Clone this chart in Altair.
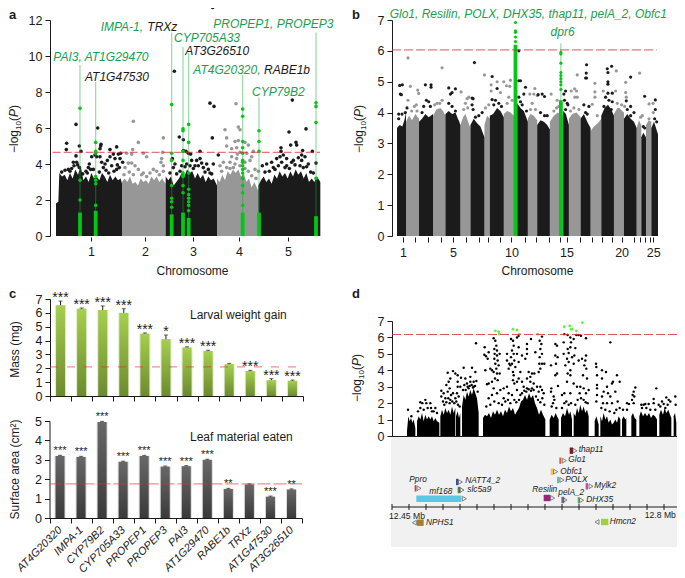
import altair as alt
import pandas as pd

FONT = "Liberation Sans"
BLACK = "#1b1b1b"
GREY = "#979797"
GREEN = "#00c814"
GTEXT = "#16a052"
RED = "#d8343c"
M = 8  # page margin

# ---------------- panel a ----------------
a_env = [
    ("1", "k", [(168,1.8),(175,1.9),(178,3.5),(186,3.3),(194,3.4),(202,3.1),(210,3.5),(218,3.2),(226,3.7),(234,3.4),(242,3.9),(250,3.1),(258,3.3),(266,3.0),(274,3.5),(282,3.2),(290,3.3),(298,3.1),(306,3.5),(314,3.3),(322,3.0),(330,3.4),(338,3.1),(346,3.3),(354,3.1),(362,3.2),(366,2.9)]),
    ("2", "g", [(366,3.0),(374,3.2),(382,3.0),(390,3.3),(398,2.9),(406,3.0),(414,2.8),(422,3.2),(430,3.0),(438,3.1),(446,2.9),(454,3.3),(462,3.1),(470,3.3),(478,3.0),(486,3.2),(497,2.9)]),
    ("3", "k", [(497,3.3),(505,3.1),(513,3.3),(521,2.8),(529,3.0),(537,3.2),(545,3.5),(553,3.3),(561,3.7),(569,3.5),(577,3.6),(585,3.2),(593,3.5),(601,3.2),(609,3.4),(617,3.0),(625,3.3),(633,3.1),(641,3.2),(651,2.8)]),
    ("4", "g", [(651,3.2),(659,3.0),(667,3.4),(675,3.1),(683,3.6),(691,3.4),(699,3.7),(707,3.5),(715,3.7),(723,3.3),(731,3.5),(739,3.0),(747,3.2),(755,2.7),(763,3.0),(775,2.5)]),
    ("5", "k", [(775,2.8),(783,3.1),(791,3.3),(799,3.0),(807,3.2),(815,2.9),(823,3.4),(831,3.2),(839,3.6),(847,3.3),(855,3.5),(863,3.2),(871,3.6),(879,3.3),(887,3.7),(895,3.4),(903,3.6),(911,3.2),(919,3.5),(927,3.0),(935,3.2),(943,3.0),(951,3.3),(961,3.0)]),
]
a_black = [(200,5.15),(199,4.8),(228,6.2),(238,5.0),(243,4.7),(228,4.45),(205,3.7),(220,4.1),(230,4.1),(210,3.6),(222,3.9),(238,3.8),(258,3.6),(268,4.0),(275,4.4),(293,6.0),(285,4.5),(290,4.4),(303,5.1),(302,5.0),(300,4.85),(330,4.8),(350,4.95),(330,4.4),(322,4.2),(315,4.0),(300,4.4),(340,4.55),(355,4.55),(362,4.6),(360,4.3),(368,4.1),(345,4.3),(265,3.8),(280,3.7),(310,3.8),(335,3.9),(350,3.7),
    (215,3.75),(233,3.95),(248,3.45),(262,3.5),(272,3.7),(298,3.55),(305,4.1),(318,3.65),(326,3.5),(342,3.6),(352,3.95),(358,3.8),(185,3.55),(195,3.65),
    (538,5.5),(550,5.35),(550,4.75),(558,4.7),(565,4.6),(572,4.55),(517,4.3),(630,7.38),(642,7.2),(637,5.45),(655,4.5),(640,4.0),(600,4.7),(590,4.2),(600,4.3),(575,4.2),(560,4.0),(545,3.9),(620,4.0),(610,3.8),(525,4.0),(523,9.15),(638,12.7),(520,3.8),(630,3.5),(585,3.9),
    (555,3.85),(570,3.9),(580,3.75),(595,3.9),(605,4.05),(615,3.55),(625,3.7),(635,3.45),(540,3.6),(530,3.45),(510,3.5),
    (877,7.55),(918,5.95),(867,5.78),(888,5.2),(872,5.05),(890,5.05),(843,4.9),(843,4.7),(908,4.75),(937,4.7),(905,4.5),(948,4.05),(787,3.9),(800,4.0),(815,4.1),(830,4.3),(840,4.4),(850,4.5),(860,4.3),(880,4.2),(895,4.35),(915,4.4),(925,4.0),(905,4.2),(875,4.1),(820,3.8),(860,3.9),
    (795,3.55),(808,3.6),(825,3.7),(835,3.9),(845,4.1),(855,3.8),(868,3.75),(885,3.95),(900,3.9),(910,3.8),(920,3.85),(932,3.55),(940,3.5)]
a_grey = [(400,6.37),(398,4.8),(415,5.2),(430,4.6),(440,4.4),(380,4.6),(385,4.05),(395,4.05),(405,3.9),(375,3.8),(395,4.55),(490,5.45),(488,4.65),(485,4.3),(483,4.1),(490,3.9),(490,3.6),(470,3.6),(450,3.5),(430,3.5),(415,3.7),(460,3.7),
    (372,3.4),(388,3.55),(400,3.4),(425,3.4),(440,3.3),(478,3.4),
    (708,7.35),(675,5.9),(715,6.05),(720,5.9),(680,5.45),(705,5.25),(715,5.3),(735,5.2),(680,5.0),(695,4.85),(710,4.9),(720,4.65),(740,4.6),(760,4.7),(745,5.05),(755,4.4),(670,4.1),(690,4.1),(710,4.3),(750,4.2),(765,3.7),(775,3.6),(660,3.9),(695,4.4),(735,4.1),(720,3.9),(700,3.8),
    (665,3.6),(680,3.8),(690,3.75),(705,4.0),(712,4.55),(735,3.75),(745,3.6),(755,3.35),(768,3.2)]
a_stems = [(240,9.5),(287,8.55),(515,11.3),(549,10.5),(566,10.2),(728,8.95),(777,7.7),(948,11.3)]
a_runs = [(240,1.3),(287,1.4),(515,1.2),(549,1.3),(566,1.0),(728,1.3),(777,1.3),(948,1.1)]
a_green = [(240,7.1),(240,3.1),(240,2.0),
    (287,5.2),(287,4.7),(287,4.6),(287,3.3),(287,3.1),(287,2.9),(287,1.7),
    (515,7.3),(515,4.6),(515,4.2),(515,2.8),(515,2.1),(515,1.9),(515,1.6),
    (549,5.95),(549,5.85),(549,4.7),(549,4.2),(549,3.5),(549,3.4),(549,3.3),(549,2.8),(549,2.4),
    (566,6.2),(566,5.2),(566,3.5),(566,2.6),(566,2.3),(566,2.1),(566,1.9),(566,1.7),(566,1.4),
    (728,7.05),(728,6.65),(728,5.25),(728,4.9),(728,4.6),(728,4.2),(728,4.1),(728,3.9),(728,3.7),(728,3.5),(728,3.2),(728,2.8),(728,2.4),(728,1.7),
    (777,5.85),(777,5.25),(777,4.7),
    (948,7.4),(948,7.2),(948,6.3),(948,3.2)]
a_ticks = [273,435,579,717,864]
a_labels = [(160,9.93,"PAI3, AT1G29470",GTEXT),(255,8.85,"AT1G47530",BLACK),(302,11.63,"IMPA-1,",GTEXT),(442,11.63,"TRXz",BLACK),
    (522,11.02,"CYP705A33",GTEXT),(556,10.27,"AT3G26510",BLACK),(580,9.22,"AT4G20320,",GTEXT),(792,9.22,"RABE1b",BLACK),
    (756,8.02,"CYP79B2",GTEXT),(640,11.8,"PROPEP1, PROPEP3",GTEXT)]

# ---------------- panel b ----------------
b_env = [
    ("2","g",[(197,3.7),(206,3.9),(215,3.75),(225,3.95),(236,3.8)]),
    ("4","g",[(278,3.9),(288,4.1),(300,4.15),(308,4.05),(315,3.9)]),
    ("6","g",[(360,3.6),(368,3.85),(375,3.95),(383,3.7),(390,3.5)]),
    ("8","g",[(432,3.6),(440,3.9),(448,3.8)]),
    ("10","g",[(490,3.95),(500,4.05),(510,4.0),(520,3.9),(530,4.0)]),
    ("12","g",[(562,3.8),(570,3.95),(580,3.9),(590,3.75)]),
    ("14","g",[(628,3.7),(640,3.9),(652,4.0),(668,3.9)]),
    ("16","g",[(685,3.8),(695,3.95),(708,4.0),(720,3.85)]),
    ("18","g",[(750,3.4),(760,3.55),(772,3.65),(782,3.8)]),
    ("20","g",[(820,3.95),(830,4.15),(840,4.1),(850,4.0)]),
    ("22","g",[(888,3.5),(895,3.75),(902,3.6)]),
    ("24","g",[(916,3.6),(924,3.75),(932,3.7)]),
    ("1","k",[(170,3.5),(178,3.6),(186,3.55),(192,3.75),(197,4.0)]),
    ("3","k",[(236,3.7),(245,3.8),(255,3.95),(265,3.85),(278,3.95)]),
    ("5","k",[(315,3.95),(325,4.05),(335,3.95),(345,4.0),(360,3.6)]),
    ("7","k",[(390,3.6),(400,3.8),(410,3.65),(420,3.55),(432,3.2)]),
    ("9","k",[(448,3.9),(458,3.95),(470,4.15),(480,4.05),(490,3.85)]),
    ("11","k",[(530,4.3),(540,4.15),(550,4.05),(562,3.7)]),
    ("13","k",[(590,3.6),(600,3.75),(610,3.7),(620,3.6),(628,3.45)]),
    ("15","k",[(668,4.05),(676,3.95),(685,3.6)]),
    ("17","k",[(720,3.8),(730,3.95),(740,3.7),(750,3.5)]),
    ("19","k",[(782,3.9),(792,4.15),(802,4.25),(812,4.1),(820,3.9)]),
    ("21","k",[(850,3.8),(860,3.95),(870,3.8),(880,3.7),(888,3.5)]),
    ("23","k",[(902,3.2),(908,3.35),(916,3.2)]),
    ("25","k",[(932,3.5),(940,3.7),(952,3.3)]),
]
b_black = [(178,4.88),(186,4.9),(180,4.6),(183,4.58),(200,4.15),(195,4.0),(175,3.95),(185,3.95),(175,3.8),
    (255,4.9),(272,4.9),(272,4.82),(250,4.2),(258,4.4),(265,4.35),(270,4.2),(245,4.0),(325,4.8),(345,4.77),(335,4.65),(330,4.6),(325,4.3),(335,4.2),(345,4.05),(352,3.7),
    (402,5.62),(395,4.47),(398,4.45),(395,4.25),(398,4.1),(425,4.0),(415,3.9),(405,3.85),
    (455,5.17),(470,4.78),(455,4.42),(465,4.4),(460,4.25),(475,4.3),(483,4.2),
    (535,6.0),(540,5.03),(535,5.03),(555,4.82),(550,4.6),(540,4.35),(535,4.5),(545,4.25),(558,4.05),
    (593,4.58),(605,4.6),(612,4.52),(600,4.0),(612,3.9),(620,3.9),
    (675,4.7),(670,4.6),(672,4.4),(680,4.3),(675,4.1),(682,4.25),
    (738,5.55),(737,5.28),(735,5.12),(738,5.12),(730,4.25),(745,4.2),(740,3.95),(735,4.0),
    (800,5.42),(813,5.5),(802,5.3),(802,5.0),(802,4.92),(802,4.63),(815,4.63),(795,4.5),(805,4.4),(790,4.2),(815,4.35),(800,4.1),(812,4.1),
    (870,5.15),(857,4.38),(870,4.2),(880,4.0),(860,4.1),(870,3.9),
    (912,4.53),(908,3.55),(912,3.5),(944,4.41),(944,4.1),(942,3.8),(948,3.7)]
b_grey = [(203,5.77),(210,4.85),(232,4.73),(235,4.62),(203,4.4),(222,4.2),(228,4.25),(214,4.05),(230,4.05),(305,5.45),(305,4.4),(290,4.3),(283,4.25),(298,4.3),
    (362,4.67),(380,4.45),(375,4.3),(370,4.1),(385,4.5),(382,4.15),(432,5.22),(452,4.9),(452,4.7),(470,5.0),(490,5.0),(510,5.05),(498,4.87),(508,4.85),(480,4.65),(445,4.25),(435,4.15),(500,4.3),(515,4.4),(505,4.5),
    (583,4.78),(568,4.6),(580,4.6),(590,4.55),(575,4.3),(570,4.1),(585,4.1),(632,4.6),(650,4.4),(640,4.05),(648,4.15),(655,4.2),
    (710,5.22),(692,4.7),(702,4.77),(708,4.7),(703,4.5),(710,4.5),(700,4.15),(715,4.1),(690,4.05),
    (763,4.95),(763,4.67),(763,4.5),(755,4.27),(770,3.9),(788,4.7),(827,5.35),(825,4.7),(835,4.1),(830,4.3),(843,4.25),
    (855,4.98),(855,4.65),(857,4.5),(852,4.2),(897,5.28),(905,3.9),(900,3.85),(925,4.28),(937,4.3),(938,4.0),(925,3.8)]
b_stems = [(661,6.25)]
b_runs = [(525,6.2),(661,4.4)]
b_green = [(525,6.92),(525,6.65),(525,6.6),(525,6.45),(525,6.3),(661,5.95),(661,5.9),(661,5.6),(661,5.3),(661,5.2),(661,5.1),(661,5.0),(661,4.9),(661,4.75)]
b_ticks = [188,223,262,302,338,378,415,443,480,513,553,587,625,657,678,718,755,785,815,843,880,897,913,927,938]
b_tick_shown = {188:"1",338:"5",513:"10",678:"15",843:"20",938:"25"}

# ---------------- panel c ----------------
genes = ["AT4G20320","IMPA-1","CYP79B2","CYP705A33","PROPEP1","PROPEP3","PAI3","AT1G29470","RABE1b","TRXz","AT1G47530","AT3G26510"]
mass = [6.55,6.3,6.2,6.0,4.5,4.1,3.5,3.25,2.3,1.8,1.15,1.1]
mass_err = [0.3,0.05,0.3,0.3,0.05,0.3,0.05,0.05,0.05,0.05,0.1,0.05]
mass_sig = ["***","***","***","***","***","*","***","***","","***","***","***"]
leaf = [3.2,3.15,4.95,2.9,3.2,2.65,2.67,3.0,1.5,1.73,1.1,1.47]
leaf_err = [0.03,0.03,0.03,0.03,0.03,0.03,0.03,0.03,0.03,0.03,0.03,0.03]
leaf_sig = ["***","***","***","***","***","***","***","***","**","","***","**"]

# ---------------- panel d ----------------
d_env = [
    [(200,0.3),(204,1.2),(208,0.9),(212,1.1),(216,0.8),(220,1.0),(225,0.5)],
    [(230,0.9),(235,1.2),(240,1.0),(245,1.4),(250,0.9),(255,1.3),(260,1.0),(265,1.2),(270,1.0),(275,1.2),(280,0.9),(285,1.1),(290,0.9),(297,0.8)],
    [(300,1.2),(305,1.6),(310,1.3),(315,1.7),(320,1.4),(325,1.6),(330,1.3),(335,1.8),(340,1.4),(345,1.7)],
    [(347,1.2),(352,1.5),(356,1.1),(360,1.4)],
    [(365,1.8),(370,2.5),(375,2.2),(380,2.7),(385,2.4),(390,2.8),(395,2.5),(400,2.9),(405,2.6),(410,2.3),(415,1.4)],
    [(428,1.1),(434,1.3),(440,1.2),(446,1.4),(452,1.1),(458,1.5),(464,1.3),(470,1.6),(476,1.3),(482,1.5),(488,1.2),(494,1.6),(500,1.4),(506,1.8),(512,1.5),(518,1.7),(524,1.3),(530,1.5),(536,1.7),(542,2.1),(548,2.2),(554,2.5),(560,2.2),(566,2.6),(572,2.3),(578,2.5),(584,2.0),(590,1.7),(596,1.3),(602,1.6),(608,1.3),(615,1.0)],
    [(628,1.0),(634,1.3),(640,1.1),(646,1.4),(650,1.2),(655,1.0)],
    [(662,1.1),(668,1.4),(674,1.2),(680,1.7),(686,1.3),(690,1.5),(695,1.0)],
    [(700,1.4),(705,1.2),(710,1.7),(715,1.4),(720,1.9),(725,1.5),(730,1.8),(735,1.4),(740,1.6),(745,1.2)],
    [(763,0.9),(768,1.2),(775,0.7)],
    [(780,1.2),(785,0.9),(790,1.4),(795,1.0),(800,1.2),(805,0.8),(810,1.0),(815,0.7),(820,0.8),(825,1.0),(830,0.8),(835,1.2),(840,1.0)],
    [(845,1.0),(850,1.2),(855,1.0),(858,1.1)],
    [(873,1.2),(878,1.4),(883,1.1),(888,1.0)],
    [(897,1.2),(902,1.5),(908,1.2),(914,1.4),(920,1.2),(926,1.4),(932,1.1),(938,1.3),(944,1.2),(950,1.0)],
    [(957,1.3),(962,1.6),(968,1.3),(973,1.7),(978,1.4),(984,1.6),(989,1.3),(993,1.1)],
    [(1000,1.2),(1004,1.4),(1008,0.8)],
]
d_dots = [(203,1.6),(213,1.2),(240,2.05),(246,2.0),(255,2.2),(258,2.0),(240,1.7),(270,2.0),(272,1.7),(285,1.7),(290,1.4),(262,1.7),(275,1.5),(233,1.5),(250,1.6),(280,1.5),
    (303,2.75),(322,3.85),(338,3.95),(345,3.8),(352,3.7),(370,4.15),(395,4.15),(405,3.9),(390,3.6),(375,3.5),(362,3.55),(330,3.5),(325,3.3),(318,3.1),(310,2.6),(303,2.4),(352,3.3),(352,3.0),(360,3.0),(372,3.1),(380,3.2),(390,3.3),(400,3.3),(408,3.35),(328,2.9),(338,2.6),(350,2.6),(315,2.3),(322,2.7),(400,3.0),(385,2.9),(345,2.3),(330,2.2),(355,2.4),(407,5.65),
    (308,2.1),(312,1.9),(318,2.05),(324,2.3),(328,2.0),(332,2.5),(336,2.1),(342,2.0),(348,2.1),(353,1.9),(358,1.8),(368,2.8),(376,2.8),(382,3.0),(388,3.05),(394,3.1),(398,2.95),(404,3.05),(412,2.7),
    (433,5.4),(432,4.95),(437,4.85),(445,5.1),(442,4.7),(435,4.0),(440,3.15),(445,3.2),(450,4.1),(455,4.0),(460,5.95),(465,5.8),(468,5.5),(462,5.3),(470,5.2),(463,5.0),(470,4.9),(462,4.7),(472,4.6),(465,4.4),(475,4.3),(468,4.1),(460,3.9),(470,3.8),(478,3.8),(464,3.5),(472,3.4),(455,3.3),(460,2.9),(480,2.8),(470,2.6),(455,2.5),(445,2.3),(490,2.3),(478,5.0),(500,5.0),(500,4.6),(507,4.4),(512,5.9),(518,5.8),(520,5.5),(515,5.2),(520,5.0),(512,4.8),(522,4.6),(515,4.4),(510,4.3),(505,4.1),(525,4.2),(518,3.9),(520,3.7),(518,3.4),(522,3.2),(535,6.1),(530,6.0),(535,5.4),(530,5.0),(545,4.9),(535,4.5),(540,3.9),(535,3.5),(530,3.3),(545,3.3),(560,5.6),(560,5.3),(560,5.0),(555,4.7),(572,5.9),(585,5.1),(605,6.05),(598,5.8),(603,5.6),(600,5.3),(605,5.0),(598,4.8),(597,4.4),(605,4.4),(612,4.4),(600,4.1),(595,3.9),(565,3.9),(575,3.8),(582,3.8),(570,3.6),(560,3.5),(570,3.3),(580,3.2),(550,3.0),(560,2.9),(575,2.9),(590,3.0),(600,3.0),(605,2.8),(595,2.7),(610,2.6),(500,3.0),(490,2.9),(505,2.6),(515,2.5),(530,2.8),(540,2.5),
    (438,1.8),(450,1.9),(462,2.1),(475,2.0),(485,1.9),(495,2.1),(503,2.2),(510,2.0),(522,2.2),(528,2.05),(536,2.2),(545,2.6),(552,2.75),(558,2.7),(565,2.85),(572,2.75),(580,2.8),(587,2.4),(593,2.2),(600,2.05),(606,2.3),(612,1.9),
    (633,2.9),(632,2.7),(632,4.3),(645,5.6),(650,5.5),(645,4.9),(652,4.8),(647,4.4),(650,3.8),(645,3.7),(653,3.05),(640,2.4),(642,2.2),(672,6.2),(682,6.15),(690,6.0),(708,6.15),(715,6.15),(722,6.1),(737,5.95),(700,5.9),(692,5.7),(670,5.7),(690,5.4),(682,5.3),(670,5.0),(705,5.35),(685,5.05),(702,4.9),(695,4.8),(680,4.7),(685,4.5),(700,4.4),(675,4.3),(715,4.6),(725,4.7),(737,4.9),(735,4.6),(732,4.3),(738,4.1),(690,4.0),(682,3.8),(690,3.7),(680,3.3),(672,2.6),(690,2.6),(700,3.2),(710,3.0),(720,3.0),(730,2.9),(740,3.5),(728,3.7),(718,2.6),(737,2.6),(745,2.8),(665,2.5),
    (634,1.8),(638,2.0),(648,1.7),(665,1.7),(672,2.0),(678,2.1),(685,1.9),(692,2.0),(705,1.9),(712,2.2),(722,2.3),(730,2.2),(736,2.05),(742,2.0),
    (767,4.4),(768,4.2),(770,3.7),(770,3.1),(770,2.9),(770,2.5),(768,2.1),(810,5.7),(785,4.0),(797,3.9),(785,3.5),(800,3.0),(790,2.7),(803,2.6),(810,2.4),(815,3.2),(830,3.7),(818,3.3),(838,3.3),(825,2.7),(815,2.0),(800,2.0),(785,2.4),(832,2.1),(788,2.0),(860,2.0),(866,1.95),(860,1.6),(885,2.95),(880,2.7),(877,2.5),(882,2.4),(875,2.2),(880,2.0),
    (783,1.7),(795,1.6),(808,1.5),(822,1.4),(828,1.6),(838,1.7),(848,1.6),
    (903,1.9),(910,1.9),(915,1.95),(925,1.95),(940,2.25),(948,2.9),(940,2.0),(955,1.9),(965,2.1),(978,2.35),(985,2.2),(990,2.1),(970,1.95),(975,1.7),(1005,2.4),(1006,1.9),
    (905,1.7),(918,1.7),(930,1.6),(945,1.6),(960,1.8),(982,1.9)]
d_green = [(465,6.4),(475,6.35),(477,6.2),(518,6.5),(530,6.45),(537,6.2),(592,6.2),(672,6.65),(688,6.7),(692,6.5),(708,6.4),(726,6.9),(695,6.5)]
d_ticks = [155,206,257,308,359,410,461,512,563,614,665,716,767,818,869,920,971,1022]
# name, start, end, row, colour, triangle x, triangle shape, label x, label row
tracks = [
    ("thap11",688,698,13.7,"#7a1f1f",704,"triangle-right",715,13.3),
    ("Glo1",657,663,23.7,"#e06030",672,"triangle-right",684,23.3),
    ("Obfc1",631,640,34.7,"#f5c542",646,"triangle-right",660,35),
    ("POLX",650,657,43,"#60c0b0",665,"triangle-right",675,43),
    ("Mylk2",736,743,49.3,"#c04fa0",752,"triangle-right",762,49.3),
    ("Resilin",610,630,61,"#a0207f",637,"triangle-right",576,53),
    ("pelA_2",663,672,63,"#7878a8",674,"triangle-right",654,55.5),
    ("DHX35",712,718,63.3,"#60b060",724,"triangle-right",738,63),
    ("NATT4_2",347,354,45,"#4050a0",360,"triangle-right",375,44),
    ("slc5a9",352,360,53,"#5a8040",365,"triangle-right",381,53),
    ("Ppro",223,228,51.3,"#e83040",236,"triangle-right",207,43.3),
    ("mf168",228,363,61.7,"#5cc8e8",372,"triangle-right",267,54.7),
    ("NPHS1",230,250,85.7,"#a08030",222,"triangle-left",257,85.7),
    ("Hmcn2",782,804,85,"#a0d040",770,"triangle-left",808,85),
]
ruler_row = 70
ruler_labels = [(200,78.5,"12.45 Mb"),(960,78,"12.8 Mb")]
cut_a, cut_b, cut_c1, cut_c2, cut_d = 4.65, 6.03, 2.1, 1.76, 6.18


def rng(lo, hi):
    return [lo - M, hi - M]


def xy(df, px, py, xaxis=None, yaxis=None, xf="x", yf="y"):
    return dict(
        x=alt.X(f"{xf}:Q", scale=alt.Scale(domain=px[0], range=px[1]), axis=xaxis, title=None),
        y=alt.Y(f"{yf}:Q", scale=alt.Scale(domain=py[0], range=py[1]), axis=yaxis, title=None, stack=None),
    )


def pts(pairs):
    return pd.DataFrame(pairs, columns=["x", "y"])


def y_axis(vals, x_real, title=None, **kw):
    opts = dict(orient="left", values=vals, offset=-(x_real - M), domainColor=BLACK, tickColor=BLACK, tickSize=5,
                labelColor=BLACK, labelFontSize=12.5, labelPadding=3, grid=False, format="d")
    opts.update(kw)
    if title:
        opts.update(title=title, titleFontWeight="normal", titleFontSize=12, titleColor=BLACK)
    return alt.Axis(**opts)


def txt(x, y, s, size=12, angle=0, align="left", baseline="alphabetic", style="normal", weight="normal", color=BLACK):
    kw = dict(text=s, fontSize=size, align=align, baseline=baseline, fontStyle=style, fontWeight=weight, color=color, font=FONT)
    if angle:
        kw["angle"] = angle
    return alt.Chart(alt.Data(values=[{}])).mark_text(**kw).encode(x=alt.value(x - M), y=alt.value(y - M))


def log_title(xb, ybottom):
    out = [txt(xb, ybottom, "\u2212log", 12, 270)]
    out.append(txt(xb + 3, ybottom - 23, "10", 8, 270))
    out.append(txt(xb, ybottom - 32, "(", 12, 270))
    out.append(txt(xb, ybottom - 36, "P", 12, 270, style="italic"))
    out.append(txt(xb, ybottom - 44, ")", 12, 270))
    return out


def manhattan(env, black, grey, stems, runs, green, cut, cutx, px, py, xaxis, yaxis, psize, runw, dash):
    rows = [{"x": x, "y": y, "chr": c, "s": s} for c, s, p in env for x, y in p]
    df = pd.DataFrame(rows)
    layers = [alt.Chart(df).mark_area(interpolate="linear").encode(
        detail="chr:N",
        color=alt.Color("s:N", scale=alt.Scale(domain=["k", "g"], range=[BLACK, GREY]), legend=None),
        **xy(df, px, py, xaxis, yaxis))]
    layers.append(alt.Chart(pts(grey)).mark_circle(size=psize, color=GREY, opacity=1).encode(**xy(None, px, py)))
    layers.append(alt.Chart(pts(black)).mark_circle(size=psize, color=BLACK, opacity=1).encode(**xy(None, px, py)))
    if stems:
        sd = pd.DataFrame(stems, columns=["x", "y"]).assign(y0=0)
        layers.append(alt.Chart(sd).mark_rule(color="#19a83a", opacity=0.45, strokeWidth=1.2).encode(
            y2="y0:Q", **xy(None, px, py)))
    rd = pd.DataFrame(runs, columns=["x", "y"]).assign(y0=0)
    layers.append(alt.Chart(rd).mark_rule(color=GREEN, strokeWidth=runw).encode(y2="y0:Q", **xy(None, px, py)))
    layers.append(alt.Chart(pts(green)).mark_circle(size=psize, color=GREEN, opacity=1).encode(**xy(None, px, py)))
    th = pd.DataFrame([{"x": cutx[0], "x2": cutx[1], "y": cut}])
    layers.append(alt.Chart(th).mark_rule(color=RED, strokeWidth=1, strokeDash=dash, opacity=0.85).encode(
        x2="x2:Q", **xy(None, px, py)))
    return layers


layers = []

# panel a
pxa = ([150, 966], rng(50, 322))
pya = ([0, 12], rng(236, 20))
lab_a = "indexof(" + str(a_ticks) + ",datum.value)+1"
xa = alt.Axis(orient="bottom", values=a_ticks, offset=-(578 - 237), domain=False, tickColor=BLACK, tickSize=4,
              labelColor=BLACK, labelFontSize=12.5, labelPadding=4, labelExpr=lab_a, grid=False,
              title="Chromosome", titleFontWeight="normal", titleFontSize=12, titleColor=BLACK,
              titleX=192 - M, titleY=33, titleBaseline="middle")
ya = y_axis([0, 2, 4, 6, 8, 10, 12], 50)
layers += manhattan(a_env, a_black, a_grey, a_stems, a_runs, a_green, cut_a, (158, 960), pxa, pya, xa, ya, 13, 3.8, [8, 3])
d_a = pd.DataFrame(a_labels, columns=["x", "y", "t", "c"])
layers.append(alt.Chart(d_a).mark_text(align="left", baseline="middle", fontSize=12, fontStyle="italic", font=FONT).encode(
    text="t:N", color=alt.Color("c:N", scale=None), **xy(None, pxa, pya)))
layers += log_title(18, 153)
layers.append(txt(9, 19, "a", 13, weight="bold"))

# panel b
pxb = ([155, 955], rng(392, 659))
pyb = ([0, 7], rng(236, 20))
shown = "{" + ",".join(f"'{k}':'{v}'" for k, v in b_tick_shown.items()) + "}[''+datum.value]||''"
xb = alt.Axis(orient="bottom", values=b_ticks, offset=-(578 - 237), domain=False, tickColor=BLACK, tickSize=5,
              labelColor=BLACK, labelFontSize=12.5, labelPadding=4, labelExpr=shown, grid=False,
              title="Chromosome", titleFontWeight="normal", titleFontSize=12, titleColor=BLACK,
              titleX=537 - M, titleY=33, titleBaseline="middle")
yb = y_axis([0, 1, 2, 3, 4, 5, 6, 7], 392)
layers += manhattan(b_env, b_black, b_grey, b_stems, b_runs, b_green, cut_b, (155, 948), pxb, pyb, xb, yb, 10, 3.8, [9, 3])
d_b = pd.DataFrame([(148, 7.21, "Glo1, Resilin, POLX, DHX35, thap11, pelA_2, Obfc1"), (630, 6.62, "dpr6")], columns=["x", "y", "t"])
layers.append(alt.Chart(d_b).mark_text(align="left", baseline="middle", fontSize=12, fontStyle="italic", font=FONT, color=GTEXT).encode(
    text="t:N", **xy(None, pxb, pyb)))
layers += log_title(363, 153)
layers.append(txt(352, 19, "b", 13, weight="bold"))


# panel c
def bars(vals, errs, sig, gene_range, py, ticks, stops, halo, title, title_y, xaxis, cut, cut_dash, star_size, star_dy, y_real_x):
    df = pd.DataFrame({"g": genes, "v": vals, "top": [a + b for a, b in zip(vals, errs)], "s": sig}).assign(y0=0)
    X = alt.X("g:N", sort=None, scale=alt.Scale(type="band", domain=genes, range=gene_range, paddingInner=0, paddingOuter=0), axis=xaxis, title=None)
    X0 = alt.X("g:N", sort=None, scale=alt.Scale(type="band", domain=genes, range=gene_range, paddingInner=0, paddingOuter=0), axis=None, title=None)
    Y = alt.Y("v:Q", scale=alt.Scale(domain=py[0], range=py[1]), axis=y_axis(ticks, y_real_x, title=title, titleAngle=270, titleX=-(y_real_x - 18), titleY=title_y - M, titleBaseline="alphabetic"), title=title, stack=None)
    Y0 = lambda f: alt.Y(f, scale=alt.Scale(domain=py[0], range=py[1]), axis=None, title=None, stack=None)
    grad = alt.LinearGradient(gradient="linear", x1=0, x2=0, y1=0, y2=1,
                              stops=[alt.GradientStop(color=stops[0], offset=0), alt.GradientStop(color=stops[1], offset=1)])
    ls = [alt.Chart(df).mark_bar(size=11, color=halo).encode(x=X, y=Y)]
    ls.append(alt.Chart(df).mark_bar(size=9, color=grad).encode(x=X0, y=Y0("v:Q")))
    ls.append(alt.Chart(df).mark_rule(color="#222", strokeWidth=1).encode(x=X0, y=Y0("v:Q"), y2="top:Q"))
    ls.append(alt.Chart(df).mark_tick(color="#222", size=4, thickness=1, orient="horizontal").encode(x=X0, y=Y0("top:Q")))
    ls.append(alt.Chart(df).mark_text(fontSize=star_size, baseline="alphabetic", dy=star_dy, color=BLACK, font=FONT).encode(x=X0, y=Y0("top:Q"), text="s:N"))
    th = pd.DataFrame([{"x": gene_range[0], "x2": gene_range[1], "y": cut}])
    ls.append(alt.Chart(th).mark_rule(color=RED, strokeWidth=1.1, strokeDash=cut_dash, opacity=0.55).encode(
        x=alt.X("x:Q", scale=None, axis=None), x2="x2:Q", y=Y0("y:Q")))
    return ls


xc1 = alt.Axis(orient="bottom", offset=-(578 - 396), labels=False, domainColor=BLACK, tickColor=BLACK, tickSize=5, tickBand="extent", grid=False)
layers += bars(mass, mass_err, mass_sig, rng(50, 303), ([0, 7], rng(396, 299)), [0, 1, 2, 3, 4, 5, 6, 7],
               ("#a6cf4e", "#6c8a2e"), "#dfeccb", "Mass (mg)", 349, xc1, cut_c1, [8, 9], 14, 1, 50)
xc2 = alt.Axis(orient="bottom", offset=-(578 - 518), domainColor=BLACK, tickColor=BLACK, tickSize=5, tickBand="extent", grid=False,
               labelAngle=-45, labelAlign="right", labelBaseline="middle", labelFontSize=11, labelColor=BLACK, labelFontStyle="italic", labelPadding=5, labelOverlap=False)
layers += bars(leaf, leaf_err, leaf_sig, rng(49.5, 302), ([0, 5], rng(518, 421)), [0, 1, 2, 3, 4, 5],
               ("#686868", "#3a3a3a"), "#dcdcdc", "Surface area (cm\u00b2)", 469, xc2, cut_c2, [13, 3], 11, -1, 49.5)
layers.append(txt(190, 319, "Larval weight gain", 12))
layers.append(txt(190, 441, "Leaf material eaten", 12))
layers.append(txt(9, 298, "c", 13, weight="bold"))

# panel d
pxd = ([155, 1022], rng(392, 681))
pyd = ([0, 7], rng(436, 321))
ptr = ([0, 110], rng(437, 547))
box = pd.DataFrame([{"x": 152, "x2": 1020, "y": 0, "y2": 110}])
layers.append(alt.Chart(box).mark_rect(color="#f1f1f1").encode(x2="x2:Q", y2="y2:Q", **xy(None, pxd, ptr)))
env_rows = [{"x": x, "y": y, "c": i} for i, p in enumerate(d_env) for x, y in p]
xd = alt.Axis(orient="bottom", values=d_ticks, offset=-(578 - 436), labels=False, domainColor=BLACK, tickColor=BLACK, tickSize=4, grid=False)
yd = y_axis([0, 1, 2, 3, 4, 5, 6, 7], 392)
layers.append(alt.Chart(pd.DataFrame(env_rows)).mark_area(color="#000000").encode(detail="c:N", **xy(None, pxd, pyd, xd, yd)))
layers.append(alt.Chart(pts(d_dots)).mark_circle(size=6, color="#000000", opacity=1).encode(**xy(None, pxd, pyd)))
layers.append(alt.Chart(pts(d_green)).mark_circle(size=8, color="#66ee44", opacity=1).encode(**xy(None, pxd, pyd)))
thd = pd.DataFrame([{"x": 155, "x2": 1022, "y": cut_d}])
layers.append(alt.Chart(thd).mark_rule(color=RED, strokeWidth=1, strokeDash=[9, 3], opacity=0.85).encode(x2="x2:Q", **xy(None, pxd, pyd)))
layers += log_title(361, 402)
layers.append(txt(352, 298, "d", 13, weight="bold"))

# gene track
tr = pd.DataFrame(tracks, columns=["name", "x", "x2", "y", "col", "tx", "shape", "lx", "ly"])
tr["y1"] = tr["y"] - 3.2
tr["y2"] = tr["y"] + 3.2
layers.append(alt.Chart(pd.DataFrame([{"x": 155, "x2": 1020, "y": ruler_row}])).mark_rule(color=BLACK, strokeWidth=1).encode(x2="x2:Q", **xy(None, pxd, ptr)))
rt = pd.DataFrame({"x": d_ticks}).assign(y=ruler_row - 3, y2=ruler_row + 3)
layers.append(alt.Chart(rt).mark_rule(color=BLACK, strokeWidth=1).encode(y2="y2:Q", **xy(None, pxd, ptr)))
layers.append(alt.Chart(tr).mark_rect().encode(x2="x2:Q", y2="y2:Q", color=alt.Color("col:N", scale=None), **xy(None, pxd, ptr, yf="y1")))
layers.append(alt.Chart(tr).mark_point(filled=False, size=22, color="#444444", strokeWidth=0.9).encode(
    shape=alt.Shape("shape:N", scale=None), **xy(None, pxd, ptr, xf="tx")))
layers.append(alt.Chart(tr).mark_text(align="left", baseline="middle", fontSize=8.3, fontStyle="italic", font=FONT, color=BLACK).encode(
    text="name:N", **xy(None, pxd, ptr, xf="lx", yf="ly")))
rl = pd.DataFrame(ruler_labels, columns=["x", "y", "t"])
layers.append(alt.Chart(rl).mark_text(align="center", baseline="middle", fontSize=8.6, font=FONT, color=BLACK).encode(text="t:N", **xy(None, pxd, ptr)))

chart = alt.layer(*layers).resolve_scale(
    x="independent", y="independent", color="independent", shape="independent"
).resolve_axis(x="independent", y="independent").properties(
    width=669, height=570, padding=0, autosize=alt.AutoSizeParams(type="none")
).configure(font=FONT).configure_view(stroke=None)

chart.save("out.html", embed_options={"renderer": "svg", "actions": False})
